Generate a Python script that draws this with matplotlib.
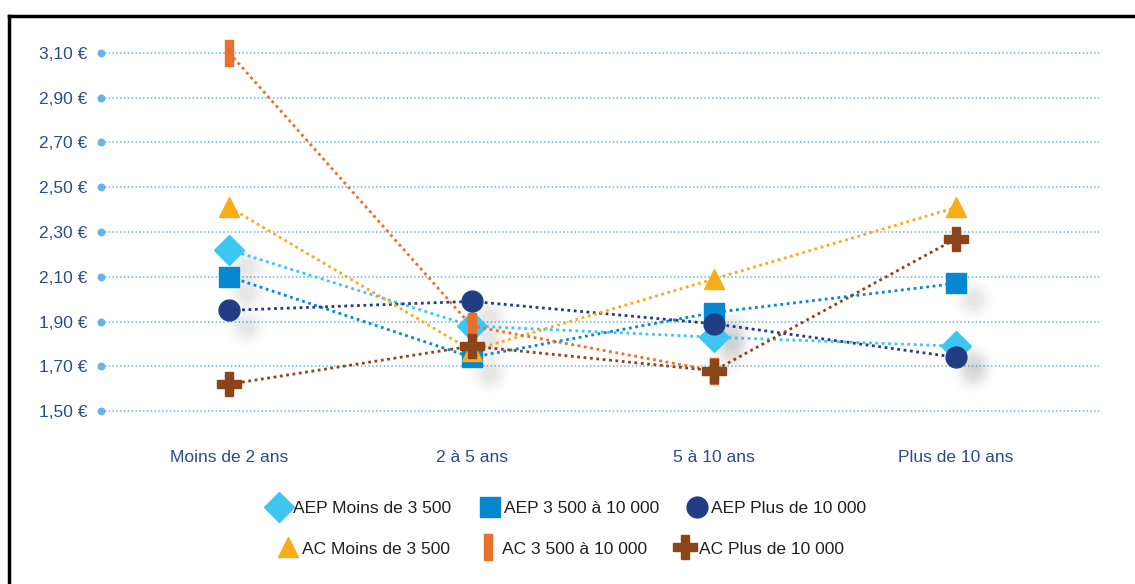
import numpy as np
import matplotlib.pyplot as plt
from matplotlib.transforms import ScaledTranslation
from matplotlib.lines import Line2D

categories = ['Moins de 2 ans', '2 à 5 ans', '5 à 10 ans', 'Plus de 10 ans']
series_names = ['AEP Moins de 3 500', 'AEP 3 500 à 10 000', 'AEP Plus de 10 000',
                'AC Moins de 3 500', 'AC 3 500 à 10 000', 'AC Plus de 10 000']
aep_small = [2.22, 1.88, 1.83, 1.79]
aep_mid = [2.10, 1.74, 1.94, 2.07]
aep_big = [1.95, 1.99, 1.89, 1.74]
ac_small = [2.41, 1.77, 2.09, 2.41]
ac_mid = [3.10, 1.88, 1.68, np.nan]
ac_big = [1.62, 1.79, 1.68, 2.27]
yticks = [1.50, 1.70, 1.90, 2.10, 2.30, 2.50, 2.70, 2.90, 3.10]

plt.rcParams['font.family'] = ['Liberation Sans', 'DejaVu Sans']

bar_marker = [(-0.28, -1), (0.28, -1), (0.28, 1), (-0.28, 1), (-0.28, -1)]
styles = [
    (aep_small, '#3EC6F2', 'D', 15),
    (aep_mid, '#0787D0', 's', 14),
    (aep_big, '#233D85', 'o', 15),
    (ac_small, '#F8AC18', '^', 15),
    (ac_mid, '#E8702A', bar_marker, 19),
    (ac_big, '#8B4519', 'P', 17),
]

fig = plt.figure(figsize=(11.35, 5.84), dpi=100)
ax = fig.add_axes([101 / 1135, 0.2579, 998 / 1135, 0.6897])
x = np.arange(len(categories))

# soft shadows under the AEP markers
shift = ax.transData + ScaledTranslation(0.17, -0.16, fig.dpi_scale_trans)
for vals, c, m, ms in styles[:3]:
    for s, a in [(900, 0.02), (650, 0.03), (420, 0.04), (240, 0.05), (110, 0.05)]:
        ax.scatter(x, vals, s=s, color='#808080', alpha=a, lw=0, transform=shift, zorder=1)

for (vals, c, m, ms), name in zip(styles, series_names):
    ax.plot(x, vals, ls=(0, (1, 1.3)), lw=2, color=c, marker=m, markersize=ms,
            markeredgecolor=c, label=name, zorder=3)

ax.set_xlim(-0.53, 3.59)
ax.set_ylim(1.40, 3.20)
ax.set_yticks(yticks)
ax.set_yticklabels([f'{v:.2f} €'.replace('.', ',') for v in yticks])
ax.set_xticks(x)
ax.set_xticklabels(categories)
ax.tick_params(length=0, labelsize=12.5, labelcolor='#2D4A8A')
ax.tick_params(axis='y', pad=10)
ax.tick_params(axis='x', pad=12)
for v in yticks:
    ax.axhline(v, color='#6BB3E3', lw=1.1, ls=(0, (1, 1.5)), zorder=0)
ax.scatter([-0.53] * len(yticks), yticks, s=22, color='#6BB3E3', clip_on=False, zorder=2)
for sp in ax.spines.values():
    sp.set_visible(False)

h, l = ax.get_legend_handles_labels()
handles = []
for (vals, c, m, ms) in styles:
    handles.append(Line2D([], [], ls='none', marker=m, color=c, markersize=ms, markeredgecolor=c))
leg_kw = dict(frameon=False, fontsize=12.5, handletextpad=0.2, columnspacing=1.6,
              handlelength=1.2, labelcolor='#231F20', ncol=3, loc='center')
fig.legend(handles[:3], l[:3], bbox_to_anchor=(0.50, 0.130), **leg_kw)
fig.legend(handles[3:], l[3:], bbox_to_anchor=(0.494, 0.060), **leg_kw)

# frame lines on top and left
fig.add_artist(Line2D([8.5 / 1135, 1], [1 - 15.5 / 584, 1 - 15.5 / 584], color='black', lw=2.5,
                      transform=fig.transFigure))
fig.add_artist(Line2D([8.5 / 1135, 8.5 / 1135], [0, 1 - 15.5 / 584], color='black', lw=2.5,
                      transform=fig.transFigure))

fig.savefig('out.png', dpi=100)
